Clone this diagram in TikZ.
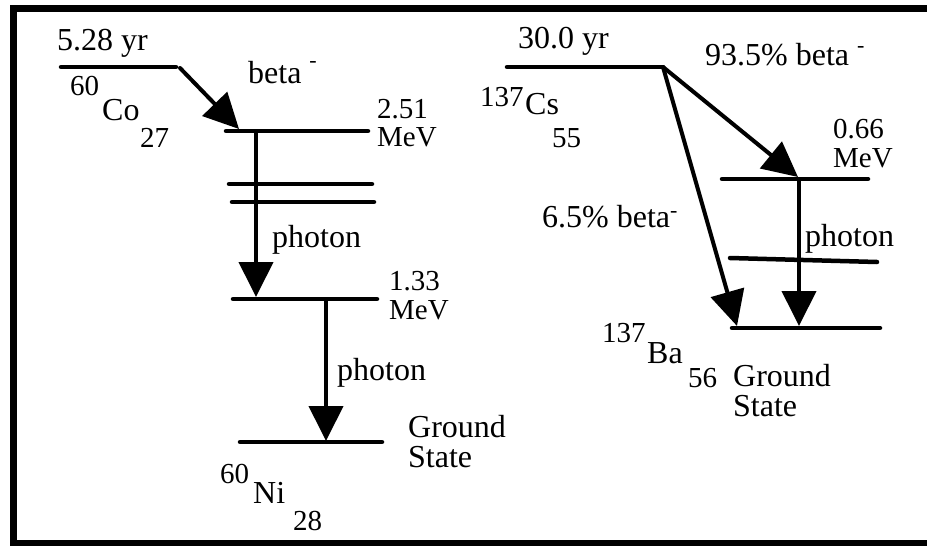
\documentclass[tikz,border=0pt]{standalone}
\usepackage{fontspec}
\setmainfont{Liberation Serif}
\usetikzlibrary{arrows.meta}
\begin{document}
\begin{tikzpicture}[x=1pt,y=-1pt,
  lvl/.style={line width=4.5pt, line cap=round},
  arr/.style={line width=4pt, line cap=round, -{Triangle[length=35pt,width=34pt]}},
  frm/.style={line width=6.5pt, line join=miter},
  big/.style={anchor=base west, inner sep=0pt, font=\fontsize{32}{36}\selectfont},
  mid/.style={anchor=base west, inner sep=0pt, font=\fontsize{29}{32}\selectfont},
  two/.style={anchor=base west, inner sep=0pt, align=left}]
\useasboundingbox (0,0) rectangle (927,546);
% frame
\coordinate (f1) at (927,8.5);
\coordinate (f2) at (13.5,8.5);
\coordinate (f3) at (13.5,543);
\coordinate (f4) at (927,543);
\draw[frm] (f1) -- (f2) -- (f3) -- (f4);

% ---------- Co-60 ----------
\coordinate (coL) at (61,67);   \coordinate (coR) at (176,67);
\coordinate (coA) at (180,68);
\coordinate (aL) at (226,131);  \coordinate (aR) at (368,131);
\coordinate (aT) at (239,129);  \coordinate (aS) at (256,131);
\coordinate (bL) at (229,184);  \coordinate (bR) at (372,184);
\coordinate (cL) at (232,202);  \coordinate (cR) at (374,202);
\coordinate (dL) at (233,299);  \coordinate (dR) at (377,299);
\coordinate (dT) at (256,297);  \coordinate (dS) at (326,299);
\coordinate (gL) at (240,442);  \coordinate (gR) at (382,442);
\coordinate (gT) at (326,441);

\draw[lvl] (coL) -- (coR);
\draw[lvl] (aL) -- (aR);
\draw[lvl] (bL) -- (bR);
\draw[lvl] (cL) -- (cR);
\draw[lvl] (dL) -- (dR);
\draw[lvl] (gL) -- (gR);
\draw[arr] (coA) -- (aT);
\draw[arr] (aS) -- (dT);
\draw[arr] (dS) -- (gT);

\node[big] (t1) at (57,50) {5.28 yr};
\node[mid] (co60) at (70,95) {60};
\node[big] (co) at (102,120) {Co};
\node[mid] (co27) at (140,147) {27};
\node[big] (b1) at (248,83) {beta \raisebox{16pt}{\fontsize{22}{22}\selectfont -}};
\node[two, font=\fontsize{29}{28}\selectfont] (e1) at (377,146) {2.51\\MeV};
\node[big] (p1) at (272,247) {photon};
\node[two, font=\fontsize{29}{29}\selectfont] (e2) at (389,319) {1.33\\MeV};
\node[big] (p2) at (337,380) {photon};
\node[two, font=\fontsize{32}{30}\selectfont] (g1) at (408,467) {Ground\\State};
\node[mid] (ni60) at (220,483) {60};
\node[big] (ni) at (253,503) {Ni};
\node[mid] (ni28) at (293,530) {28};

% ---------- Cs-137 ----------
\coordinate (csL) at (507,67);  \coordinate (csR) at (663,67);
\coordinate (hL) at (722,179);  \coordinate (hR) at (868,179);
\coordinate (hT) at (798,177);  \coordinate (hS) at (799,179);
\coordinate (mL) at (730,258);  \coordinate (mR) at (877,262);
\coordinate (kL) at (732,328);  \coordinate (kR) at (880,328);
\coordinate (kT1) at (737,326); \coordinate (kT2) at (799,326);

\draw[lvl] (csL) -- (csR);
\draw[lvl] (hL) -- (hR);
\draw[lvl] (mL) -- (mR);
\draw[lvl] (kL) -- (kR);
\draw[arr] (csR) -- (hT);
\draw[arr] (csR) -- (kT1);
\draw[arr] (hS) -- (kT2);

\node[big] (t2) at (518,48) {30.0 yr};
\node[big] (b2) at (705,65) {93.5\% beta \raisebox{13pt}{\fontsize{22}{22}\selectfont -}};
\node[mid] (cs137) at (480,106) {137};
\node[big] (cs) at (525,114) {Cs};
\node[mid] (cs55) at (552,147) {55};
\node[two, font=\fontsize{29}{29}\selectfont] (e3) at (833,167) {0.66\\MeV};
\node[big] (b3) at (542,227) {6.5\% beta\raisebox{10pt}{\fontsize{22}{22}\selectfont -}};
\node[big] (p3) at (805,246) {photon};
\node[mid] (ba137) at (602,342) {137};
\node[big] (ba) at (647,363) {Ba};
\node[mid] (ba56) at (688,387) {56};
\node[two, font=\fontsize{32}{30}\selectfont] (g2) at (733,416) {Ground\\State};
\end{tikzpicture}
\end{document}
